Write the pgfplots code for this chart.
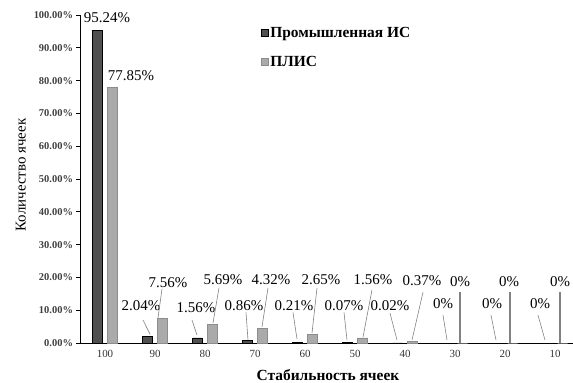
\documentclass[border=0pt]{standalone}
\usepackage{fontspec}
\setmainfont{Liberation Serif}
\usepackage{pgfplots}
\pgfplotsset{compat=1.18}
\definecolor{darkbar}{RGB}{80,80,80}
\definecolor{greybar}{RGB}{170,170,170}
\definecolor{greyedge}{RGB}{140,140,140}
\definecolor{leader}{RGB}{130,130,130}
\begin{document}
\begin{tikzpicture}
\begin{axis}[
  at={(0,0)}, anchor=south west,
  scale only axis, width=493bp, height=328bp,
  xmin=-0.5, xmax=9.36, ymin=0, ymax=100,
  axis x line*=bottom, axis y line*=left,
  axis line style={black, line width=0.8pt},
  ybar=5bp, bar width=10bp,
  xtick={0,...,9},
  xticklabels={100,90,80,70,60,50,40,30,20,10},
  x tick style={draw=none},
  extra x ticks={0.5,1.5,2.5,3.5,4.5,5.5,6.5,7.5,8.5},
  extra x tick labels={},
  extra x tick style={tick align=outside, major tick length=3.5bp, tick style={draw=black, line width=0.8pt}},
  ytick={0,10,...,100},
  y tick style={black, line width=0.8pt},
  tick align=outside, major tick length=3.5bp,
  /pgf/number format/assume math mode=true,
  yticklabel={\pgfmathprintnumber[fixed,fixed zerofill,precision=2]{\tick}\%},
  y tick label style={font=\fontsize{10.5}{12}\selectfont\bfseries, color=black!75},
  x tick label style={font=\fontsize{11}{13}\selectfont, color=black!80},
  xlabel={Стабильность ячеек},
  ylabel={Количество ячеек},
  xlabel style={font=\fontsize{15.5}{17}\selectfont\bfseries, at={(axis description cs:0.503,-0.098)}, anchor=center},
  ylabel style={font=\fontsize{15}{17}\selectfont, at={(axis description cs:-0.120,0.512)}, anchor=center, rotate=0},
  legend style={at={(axis description cs:0.36,0.975)}, anchor=north west, draw=none, fill=none,
    font=\fontsize{15.5}{17}\selectfont\bfseries, row sep=13bp, cells={anchor=west}},
  legend image code/.code={\draw[#1, line width=0.6pt] (0bp,-3.5bp) rectangle (7bp,3.5bp);},
  clip=false,
]
\addplot[fill=darkbar, draw=black, line width=0.7pt] coordinates {
 (0,95.24) (1,2.04) (2,1.56) (3,0.86) (4,0.21) (5,0.07) (6,0.02) (7,0) (8,0) (9,0)};
\addlegendentry{Промышленная ИС}
\addplot[fill=greybar, draw=greyedge, line width=0.7pt] coordinates {
 (0,77.85) (1,7.56) (2,5.69) (3,4.32) (4,2.65) (5,1.56) (6,0.37) (7,0) (8,0) (9,0)};
\addlegendentry{ПЛИС}

\begin{scope}[font=\fontsize{15}{17}\selectfont, every node/.style={inner sep=0pt, anchor=center}]
\node at (axis cs:0.04,99.1) {95.24\%};
\node at (axis cs:0.52,81.4) {77.85\%};
\node at (axis cs:0.72,11.3) {2.04\%};
\node at (axis cs:1.26,18.3) {7.56\%};
\node at (axis cs:1.82,10.9) {1.56\%};
\node at (axis cs:2.36,19.2) {5.69\%};
\node at (axis cs:2.78,11.3) {0.86\%};
\node at (axis cs:3.32,19.2) {4.32\%};
\node at (axis cs:3.78,11.3) {0.21\%};
\node at (axis cs:4.32,19.2) {2.65\%};
\node at (axis cs:4.78,11.3) {0.07\%};
\node at (axis cs:5.36,19.2) {1.56\%};
\node at (axis cs:5.70,11.3) {0.02\%};
\node at (axis cs:6.34,18.9) {0.37\%};
\node at (axis cs:6.76,11.9) {0\%};
\node at (axis cs:7.10,18.6) {0\%};
\node at (axis cs:7.74,11.9) {0\%};
\node at (axis cs:8.08,18.6) {0\%};
\node at (axis cs:8.70,11.9) {0\%};
\node at (axis cs:9.10,18.6) {0\%};
\end{scope}
\begin{scope}[draw=leader, line width=0.6pt]
\draw (axis cs:0.76,7.0) -- (axis cs:0.90,2.7);
\draw (axis cs:1.14,16.5) -- (axis cs:1.06,7.6);
\draw (axis cs:1.74,7.0) -- (axis cs:1.84,2.4);
\draw (axis cs:2.28,16.8) -- (axis cs:2.16,6.1);
\draw (axis cs:2.82,9.3) -- (axis cs:2.86,0.9);
\draw (axis cs:3.26,16.8) -- (axis cs:3.14,4.9);
\draw (axis cs:3.76,9.3) -- (axis cs:3.84,1.2);
\draw (axis cs:4.24,16.8) -- (axis cs:4.14,3.0);
\draw (axis cs:4.78,9.3) -- (axis cs:4.84,0.9);
\draw (axis cs:5.34,16.2) -- (axis cs:5.16,1.8);
\draw (axis cs:5.70,9.1) -- (axis cs:5.84,0.9);
\draw (axis cs:6.36,15.5) -- (axis cs:6.14,0.9);
\draw (axis cs:6.76,8.5) -- (axis cs:6.84,0.9);
\draw (axis cs:7.72,8.5) -- (axis cs:7.82,0.9);
\draw (axis cs:8.66,8.5) -- (axis cs:8.80,0.9);
\draw[line width=1.2pt] (axis cs:7.10,15.5) -- (axis cs:7.10,0);
\draw[line width=1.2pt] (axis cs:8.10,15.5) -- (axis cs:8.10,0);
\draw[line width=1.2pt] (axis cs:9.10,15.5) -- (axis cs:9.10,0);
\end{scope}
\end{axis}
\pgfresetboundingbox
\path[use as bounding box] (-80bp,-40bp) rectangle (493bp,343bp);
\end{tikzpicture}
\end{document}
